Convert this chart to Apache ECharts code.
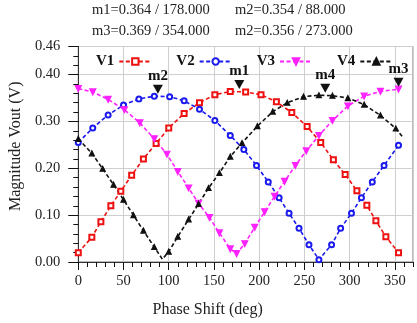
<!DOCTYPE html>
<html>
<head>
<meta charset="utf-8">
<script src="https://cdn.jsdelivr.net/npm/echarts@6/dist/echarts.min.js"></script>
<style>
  html, body { margin: 0; padding: 0; background: #fff; }
  #chart { width: 417px; height: 323px; }
</style>
</head>
<body>
<div id="chart"></div>
<script>
// values
const v1X = [0, 15, 25, 36, 47, 59, 72, 86, 100, 117, 134, 151, 168, 185, 202, 219, 236, 253, 268, 282, 295, 308, 319, 329, 340, 354]
const v1Y = [0.020, 0.053, 0.086, 0.120, 0.151, 0.185, 0.220, 0.253, 0.286, 0.317, 0.340, 0.357, 0.364, 0.363, 0.357, 0.342, 0.319, 0.289, 0.255, 0.218, 0.187, 0.152, 0.121, 0.088, 0.054, 0.020]

const v2X = [0, 16, 33, 50, 67, 84, 101, 117, 134, 151, 168, 183, 197, 210, 222, 233, 244, 255, 266, 280, 290, 302, 313, 325, 338, 354]
const v2Y = [0.255, 0.286, 0.314, 0.335, 0.348, 0.354, 0.353, 0.344, 0.326, 0.302, 0.270, 0.240, 0.206, 0.171, 0.137, 0.104, 0.072, 0.037, 0.005, 0.037, 0.072, 0.104, 0.137, 0.171, 0.206, 0.249]

const v3X = [0, 16, 33, 51, 68, 84, 98, 110, 122, 133, 145, 156, 168, 175, 184, 195, 206, 217, 228, 240, 252, 266, 281, 298, 316, 334, 354]
const v3Y = [0.370, 0.363, 0.347, 0.325, 0.297, 0.263, 0.230, 0.193, 0.158, 0.125, 0.095, 0.062, 0.028, 0.018, 0.039, 0.074, 0.107, 0.140, 0.172, 0.206, 0.237, 0.270, 0.302, 0.333, 0.354, 0.364, 0.369]

const v4X = [0, 15, 27, 39, 50, 61, 72, 84, 93, 100, 110, 122, 133, 144, 156, 168, 181, 198, 215, 231, 249, 266, 281, 298, 316, 334, 351, 358]
const v4Y = [0.263, 0.232, 0.199, 0.165, 0.133, 0.100, 0.067, 0.032, 0.006, 0.022, 0.054, 0.091, 0.124, 0.158, 0.190, 0.225, 0.254, 0.290, 0.321, 0.340, 0.353, 0.356, 0.355, 0.350, 0.336, 0.313, 0.285, 0.268]
// points where the curve bends without a symbol drawn
const v4Bare = [8, 27]

const markerNames = ['m1', 'm2', 'm3', 'm4']
const markerPhase = [178, 88, 354, 273]
const markerMag = [0.364, 0.354, 0.369, 0.356]
const markerSeries = [0, 1, 2, 3]

const headerLines = ['m1=0.364 / 178.000', 'm2=0.354 / 88.000', 'm3=0.369 / 354.000', 'm2=0.356 / 273.000']

const xTicks = { min: 0, max: 370, major: 50, minor: 10 }
const yTicks = { min: 0, max: 0.46, major: 0.1, minor: 0.02 }

const FONT = 'Liberation Serif'
const downTri = 'path://M0,0L10,0L5,9Z'

const pairs = (xs, ys, bare) => xs.map((x, i) => {
  if (bare && bare.includes(i)) return { value: [x, ys[i]], symbol: 'none' }
  return [x, ys[i]]
})

const lineSeries = (name, data, color, symbol, size) => ({
  name,
  type: 'line',
  data,
  symbol,
  symbolSize: size,
  showAllSymbol: true,
  lineStyle: { color, width: 1.6, type: [4, 2.5] },
  itemStyle: { color, borderColor: color, borderWidth: 1.2 },
  emphasis: { disabled: true },
  z: 3
})

const series = [
  lineSeries('V1', pairs(v1X, v1Y), '#ee1111', 'emptyRect', 5),
  lineSeries('V2', pairs(v2X, v2Y), '#1a1aee', 'emptyCircle', 5),
  lineSeries('V3', pairs(v3X, v3Y), '#ff22ff', downTri, 6),
  lineSeries('V4', pairs(v4X, v4Y, v4Bare), '#111111', 'triangle', 5)
]

// marker triangles with their labels
markerNames.forEach((m, i) => {
  const s = series[markerSeries[i]]
  s.markPoint = s.markPoint || { data: [] }
  s.markPoint.data.push({
    coord: [markerPhase[i], markerMag[i]],
    symbol: downTri,
    symbolSize: [10, 9],
    symbolOffset: [0, -7],
    itemStyle: { color: '#111', borderWidth: 0 },
    label: {
      show: true, formatter: m, position: 'top', distance: 1,
      fontFamily: FONT, fontWeight: 'bold', fontSize: 15, color: '#111'
    }
  })
})

const headerPos = [[92, 3], [235, 3], [92, 24], [235, 24]]

// extra axis only for the small ticks, it sits on the zero line of the other axis
const minorTickAxis = (t, position) => ({
  type: 'value', min: t.min, max: t.max, interval: t.minor, position,
  axisLine: { show: true, onZero: true, lineStyle: { color: 'rgba(0,0,0,0)' } },
  axisTick: { show: true, inside: true, length: 5, lineStyle: { color: '#111', width: 1 } },
  axisLabel: { show: false },
  splitLine: { show: false }
})

const chart = echarts.init(document.getElementById('chart'))
chart.setOption({
  animation: false,
  title: headerLines.map((t, i) => ({
    text: t, left: headerPos[i][0], top: headerPos[i][1], padding: 0,
    textStyle: { fontFamily: FONT, fontSize: 14.5, fontWeight: 'normal', color: '#222' }
  })),
  legend: {
    left: 96, top: 54, itemGap: 24, itemWidth: 32, itemHeight: 8,
    align: 'right', padding: 0,
    selectedMode: false,
    textStyle: { fontFamily: FONT, fontSize: 15, fontWeight: 'bold', color: '#111' }
  },
  grid: {
    left: 67, right: 4, top: 46.5, bottom: 58,
    show: true, borderColor: '#777', borderWidth: 1
  },
  xAxis: [{
    type: 'value', min: xTicks.min, max: xTicks.max, interval: xTicks.major,
    name: 'Phase Shift (deg)', nameLocation: 'middle', nameGap: 40,
    nameTextStyle: { fontFamily: FONT, fontSize: 16, color: '#222', padding: [0, 76, 0, 0] },
    axisLine: { show: true, onZero: false, lineStyle: { color: '#333', width: 1 } },
    axisTick: { show: true, length: 8, lineStyle: { color: '#111', width: 1 } },
    axisLabel: { margin: 12, fontFamily: FONT, fontSize: 14.5, color: '#222' },
    splitLine: { show: true, lineStyle: { color: '#cfcfcf', width: 1 } }
  }, minorTickAxis(xTicks, 'top')],
  yAxis: [{
    type: 'value', min: yTicks.min, max: yTicks.max, interval: yTicks.major,
    name: 'Magnitude Vout (V)', nameLocation: 'middle', nameGap: 52,
    nameTextStyle: { fontFamily: FONT, fontSize: 16, color: '#222', padding: [0, 0, 0, 16] },
    axisLine: { show: true, onZero: false, lineStyle: { color: '#333', width: 1 } },
    axisTick: { show: true, length: 10, lineStyle: { color: '#111', width: 1 } },
    axisLabel: {
      margin: 18, fontFamily: FONT, fontSize: 14.5, color: '#222',
      formatter: v => v.toFixed(2)
    },
    splitLine: { show: true, lineStyle: { color: '#cfcfcf', width: 1 } }
  }, minorTickAxis(yTicks, 'right')],
  series
})
</script>
</body>
</html>
